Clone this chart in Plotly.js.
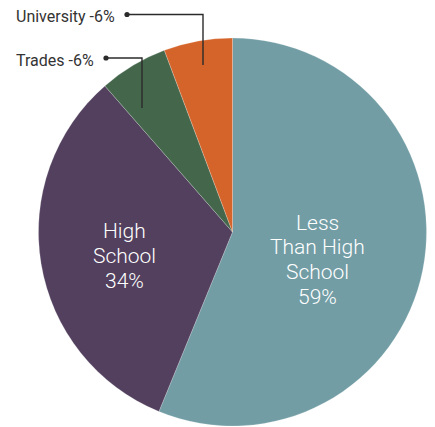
<!DOCTYPE html>
<html>
<head>
<meta charset="utf-8">
<script src="https://cdn.plot.ly/plotly-3.0.1.min.js"></script>
<style>html,body{margin:0;padding:0;background:#fff;}#chart{width:435px;height:427px;}</style>
</head>
<body>
<div id="chart"></div>
<script>
// Data
var categories = ["Less Than High School", "High School", "Trades", "University"];
var values = [59, 34, 6, 6];
var pctLabels = ["59%", "34%", "-6%", "-6%"];
var sliceColors = ["#729DA5", "#52405E", "#44674C", "#D5642A"];

var W = 435, H = 427;
function px(x){ return x / W; }
function py(y){ return 1 - y / H; }

var trace = {
  type: "pie",
  labels: categories,
  values: values,
  sort: false,
  direction: "clockwise",
  rotation: 0,
  textinfo: "none",
  hoverinfo: "label+value",
  marker: { colors: sliceColors, line: { color: "rgba(255,255,255,0.35)", width: 0.6 } },
  domain: { x: [px(38.5), px(426.5)], y: [py(426), py(38)] },
  showlegend: false
};

var font = "Roboto, 'Liberation Sans', Arial, sans-serif";
var annotations = [];

// Inside labels (multi-line, one annotation per line for tight leading)
var inside = [
  { lines: ["Less", "Than High", "School", pctLabels[0]], x: 317, y0: 221, step: 24.7 },
  { lines: ["High", "School", pctLabels[1]], x: 125, y0: 229.5, step: 25 }
];
inside.forEach(function (g) {
  g.lines.forEach(function (t, i) {
    annotations.push({
      xref: "paper", yref: "paper", x: px(g.x), y: py(g.y0 + i * g.step + 1.5),
      xanchor: "center", yanchor: "middle", showarrow: false, text: t,
      font: { family: font, size: 21, color: "#ffffff", weight: 300 }
    });
  });
});

// Outside labels with leader lines
var outside = [
  { text: categories[3] + " " + pctLabels[3], tx: 117, ty: 15, dot: [127, 14.5], corner: 203, end: 65 },
  { text: categories[2] + " " + pctLabels[2], tx: 96, ty: 59, dot: [106, 58], corner: 142, end: 108 }
];
var shapes = [];
outside.forEach(function (o) {
  annotations.push({
    xref: "paper", yref: "paper", x: px(o.tx), y: py(o.ty + 1.5),
    xanchor: "right", yanchor: "middle", showarrow: false, text: o.text,
    font: { family: font, size: 16, color: "#333333" }
  });
  shapes.push({
    type: "path", xref: "paper", yref: "paper",
    path: "M " + px(o.dot[0]) + " " + py(o.dot[1]) + " L " + px(o.corner) + " " + py(o.dot[1]) +
          " L " + px(o.corner) + " " + py(o.end),
    line: { color: "#2b2b2b", width: 1.4 }
  });
  shapes.push({
    type: "circle", xref: "paper", yref: "paper",
    x0: px(o.dot[0] - 2.6), x1: px(o.dot[0] + 2.6), y0: py(o.dot[1] + 2.6), y1: py(o.dot[1] - 2.6),
    fillcolor: "#2b2b2b", line: { width: 0 }
  });
});

var layout = {
  width: W, height: H,
  margin: { l: 0, r: 0, t: 0, b: 0 },
  paper_bgcolor: "#ffffff",
  showlegend: false,
  annotations: annotations,
  shapes: shapes
};

Plotly.newPlot("chart", [trace], layout, { displayModeBar: false, staticPlot: true });
</script>
</body>
</html>
